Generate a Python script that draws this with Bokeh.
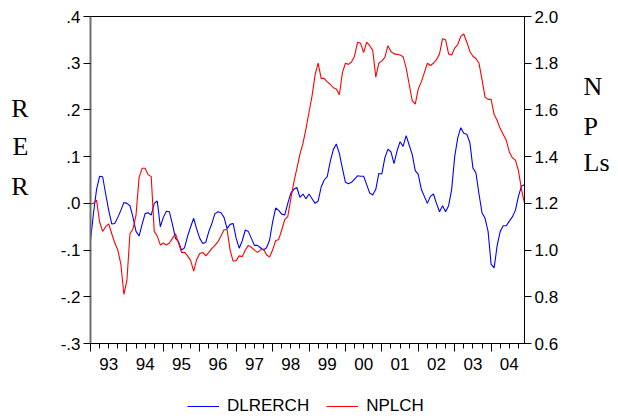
from bokeh.plotting import figure
from bokeh.layouts import column
from bokeh.models import (Range1d, LinearAxis, FixedTicker, Legend, LegendItem,
                          ColumnDataSource, CustomLabelingPolicy)
from bokeh.embed import file_html
from bokeh.resources import INLINE

# ---- data (monthly, 1993M01 .. 2004M12) ----
start_year = 1993
dlrerch = [
    -0.080, -0.020, 0.030, 0.058, 0.057, 0.020, -0.015, -0.044, -0.043, -0.030, -0.015, 0.002,
    0.000, -0.005, -0.030, -0.060, -0.070, -0.045, -0.022, -0.020, -0.025, 0.000, 0.005, -0.050,
    -0.030, -0.017, -0.018, -0.045, -0.075, -0.082, -0.100, -0.095, -0.070, -0.050, -0.032, -0.055,
    -0.075, -0.086, -0.083, -0.060, -0.043, -0.022, -0.018, -0.020, -0.030, -0.054, -0.045, -0.043,
    -0.075, -0.096, -0.080, -0.057, -0.060, -0.075, -0.090, -0.090, -0.095, -0.100, -0.095, -0.079,
    -0.040, -0.010, -0.015, -0.023, -0.025, 0.000, 0.022, 0.030, 0.034, 0.013, 0.020, 0.010,
    0.020, 0.010, 0.000, 0.005, 0.035, 0.050, 0.057, 0.090, 0.115, 0.127, 0.107, 0.075,
    0.045, 0.042, 0.045, 0.052, 0.059, 0.058, 0.058, 0.040, 0.022, 0.018, 0.030, 0.064,
    0.063, 0.098, 0.116, 0.110, 0.085, 0.112, 0.132, 0.122, 0.145, 0.125, 0.105, 0.070,
    0.062, 0.030, 0.015, 0.000, 0.015, 0.020, 0.000, -0.018, -0.005, -0.018, -0.005, 0.030,
    0.100, 0.140, 0.162, 0.150, 0.148, 0.130, 0.076, 0.065, 0.020, -0.020, -0.032, -0.060,
    -0.130, -0.138, -0.090, -0.060, -0.048, -0.048, -0.038, -0.029, -0.015, 0.015, 0.037, 0.040,
]
nplch = [
    1.197, 1.200, 1.214, 1.120, 1.080, 1.100, 1.112, 1.070, 1.030, 1.000, 0.940, 0.810,
    0.870, 1.070, 1.090, 1.150, 1.310, 1.350, 1.350, 1.322, 1.315, 1.080, 1.060, 1.022,
    1.030, 1.022, 1.030, 1.050, 1.070, 1.030, 0.990, 0.990, 0.975, 0.955, 0.910, 0.960,
    0.985, 0.990, 0.975, 0.990, 1.007, 1.020, 1.036, 1.060, 1.087, 1.088, 1.000, 0.952,
    0.955, 0.975, 0.972, 1.000, 1.020, 1.012, 1.000, 0.990, 1.000, 1.005, 0.980, 0.970,
    1.000, 1.040, 1.045, 1.086, 1.130, 1.143, 1.220, 1.290, 1.350, 1.410, 1.457, 1.520,
    1.590, 1.660, 1.750, 1.800, 1.735, 1.735, 1.720, 1.710, 1.695, 1.690, 1.665, 1.760,
    1.800, 1.795, 1.805, 1.830, 1.890, 1.885, 1.845, 1.890, 1.875, 1.855, 1.740, 1.800,
    1.810, 1.825, 1.875, 1.850, 1.840, 1.838, 1.835, 1.828, 1.780, 1.710, 1.640, 1.625,
    1.690, 1.720, 1.760, 1.800, 1.790, 1.800, 1.815, 1.840, 1.905, 1.900, 1.840, 1.835,
    1.865, 1.880, 1.915, 1.925, 1.890, 1.850, 1.830, 1.820, 1.800, 1.730, 1.655, 1.645,
    1.645, 1.580, 1.555, 1.520, 1.495, 1.470, 1.420, 1.395, 1.385, 1.340, 1.260, 1.200,
]
series_names = ["DLRERCH", "NPLCH"]
series_colors = ["#0000ff", "#ff0000"]
year_labels = ["93", "94", "95", "96", "97", "98", "99", "00", "01", "02", "03", "04"]
rer_ticks = [-0.3, -0.2, -0.1, 0.0, 0.1, 0.2, 0.3, 0.4]
rer_tick_labels = ["-.3", "-.2", "-.1", ".0", ".1", ".2", ".3", ".4"]
npl_ticks = [0.6, 0.8, 1.0, 1.2, 1.4, 1.6, 1.8, 2.0]
npl_tick_labels = ["0.6", "0.8", "1.0", "1.2", "1.4", "1.6", "1.8", "2.0"]
left_title_letters = ["R", "E", "R"]
right_title_letters = ["N", "P", "Ls"]

# vertical placement of the stacked title letters (in each axis' own units)
left_title_pos = [0.204, 0.121, 0.037]
right_title_pos = [1.700, 1.531, 1.375]

n = len(dlrerch)
xs = [start_year + i / 12 for i in range(n)]
src = ColumnDataSource(dict(x=xs, rer=dlrerch, npl=nplch))

FONT = "Liberation Sans"
SERIF = "Liberation Serif"
FS = "17px"

p = figure(width=618, height=385, output_backend="svg", toolbar_location=None,
           x_range=Range1d(start_year, xs[-1]), y_range=Range1d(-0.3, 0.4),
           min_border_left=90, min_border_right=94, min_border_top=16, min_border_bottom=42)
p.extra_y_ranges = {"npl": Range1d(0.6, 2.0)}
p.grid.visible = False
p.outline_line_color = "black"
p.background_fill_color = "white"
p.border_fill_color = "white"

# x axis: tick marks only (years long, quarters short), labels hidden
xa = p.xaxis[0]
years = list(range(start_year, start_year + len(year_labels)))
quarters = [y + q / 4 for y in years for q in (1, 2, 3)]
xa.ticker = FixedTicker(ticks=years, minor_ticks=quarters)
xa.major_label_policy = CustomLabelingPolicy(code="return new Set()")
xa.major_label_text_font_size = "1px"
xa.major_tick_out = 8
xa.major_tick_in = 0
xa.minor_tick_out = 5
xa.minor_tick_in = 0
xa.major_label_standoff = 0
xa.axis_line_color = "black"
xa.major_tick_line_color = "black"
xa.minor_tick_line_color = "black"

# x axis: year labels centred in each year
mids = [y + 0.5 for y in years]
xl = LinearAxis(ticker=FixedTicker(ticks=mids, minor_ticks=[]),
                major_label_overrides={m: lab for m, lab in zip(mids, year_labels)})
xl.axis_line_color = None
xl.major_tick_line_color = None
xl.minor_tick_line_color = None
xl.major_tick_out = 0
xl.major_tick_in = 0
xl.major_label_standoff = 2
xl.major_label_text_font = FONT
xl.major_label_text_font_size = FS
xl.major_label_text_color = "black"
p.add_layout(xl, "below")

# left axis
ya = p.yaxis[0]
ya.ticker = FixedTicker(ticks=rer_ticks, minor_ticks=[])
ya.major_label_overrides = {t: lab for t, lab in zip(rer_ticks, rer_tick_labels)}
ya.major_tick_out = 7
ya.major_tick_in = 0
ya.major_label_standoff = 3
ya.major_label_text_font = FONT
ya.major_label_text_font_size = FS
ya.major_label_text_color = "black"
ya.axis_line_color = "#6e6e6e"
ya.axis_line_width = 2
ya.major_tick_line_color = "black"

# left stacked title "R E R"
yt = LinearAxis(ticker=FixedTicker(ticks=left_title_pos, minor_ticks=[]),
                major_label_overrides={t: s for t, s in zip(left_title_pos, left_title_letters)})
yt.axis_line_color = None
yt.major_tick_line_color = None
yt.major_tick_out = 0
yt.major_tick_in = 0
yt.major_label_standoff = 29
yt.major_label_text_font = SERIF
yt.major_label_text_font_size = "26px"
yt.major_label_text_color = "black"
p.add_layout(yt, "left")

# right axis
yr = LinearAxis(y_range_name="npl", ticker=FixedTicker(ticks=npl_ticks, minor_ticks=[]),
                major_label_overrides={t: lab for t, lab in zip(npl_ticks, npl_tick_labels)})
yr.major_tick_out = 7
yr.major_tick_in = 0
yr.major_label_standoff = 3
yr.major_label_text_font = FONT
yr.major_label_text_font_size = FS
yr.major_label_text_color = "black"
yr.axis_line_color = "black"
yr.major_tick_line_color = "black"
p.add_layout(yr, "right")

# right stacked title "N P Ls"
yrt = LinearAxis(y_range_name="npl", ticker=FixedTicker(ticks=right_title_pos, minor_ticks=[]),
                 major_label_overrides={t: s for t, s in zip(right_title_pos, right_title_letters)})
yrt.axis_line_color = None
yrt.major_tick_line_color = None
yrt.major_tick_out = 0
yrt.major_tick_in = 0
yrt.major_label_standoff = 22
yrt.major_label_text_font = SERIF
yrt.major_label_text_font_size = "26px"
yrt.major_label_text_color = "black"
p.add_layout(yrt, "right")

p.line("x", "rer", source=src, line_color=series_colors[0], line_width=1.1)
p.line("x", "npl", source=src, y_range_name="npl", line_color=series_colors[1], line_width=1.1)

# legend strip below the chart (its sample lines lie outside the strip's visible range)
p2 = figure(width=618, height=33, output_backend="svg", toolbar_location=None,
            x_axis_type=None, y_axis_type=None,
            x_range=Range1d(0, 1), y_range=Range1d(0, 1), min_border=0)
p2.grid.visible = False
p2.outline_line_color = None
p2.background_fill_color = "white"
p2.border_fill_color = "white"
leg_renderers = [p2.line(x=[-5, -4], y=[-5, -4], line_color=c, line_width=1.1)
                 for c in series_colors]
legend = Legend(items=[LegendItem(label=nm, renderers=[r])
                       for nm, r in zip(series_names, leg_renderers)],
                orientation="horizontal", location=(97, 2),
                border_line_color=None, background_fill_alpha=0,
                padding=0, margin=0, glyph_width=32, glyph_height=20,
                label_standoff=8, spacing=17,
                label_text_font=FONT, label_text_font_size=FS, label_text_color="black")
p2.add_layout(legend, "center")

open("out.html", "w").write(file_html(column(p, p2, spacing=0), INLINE))
